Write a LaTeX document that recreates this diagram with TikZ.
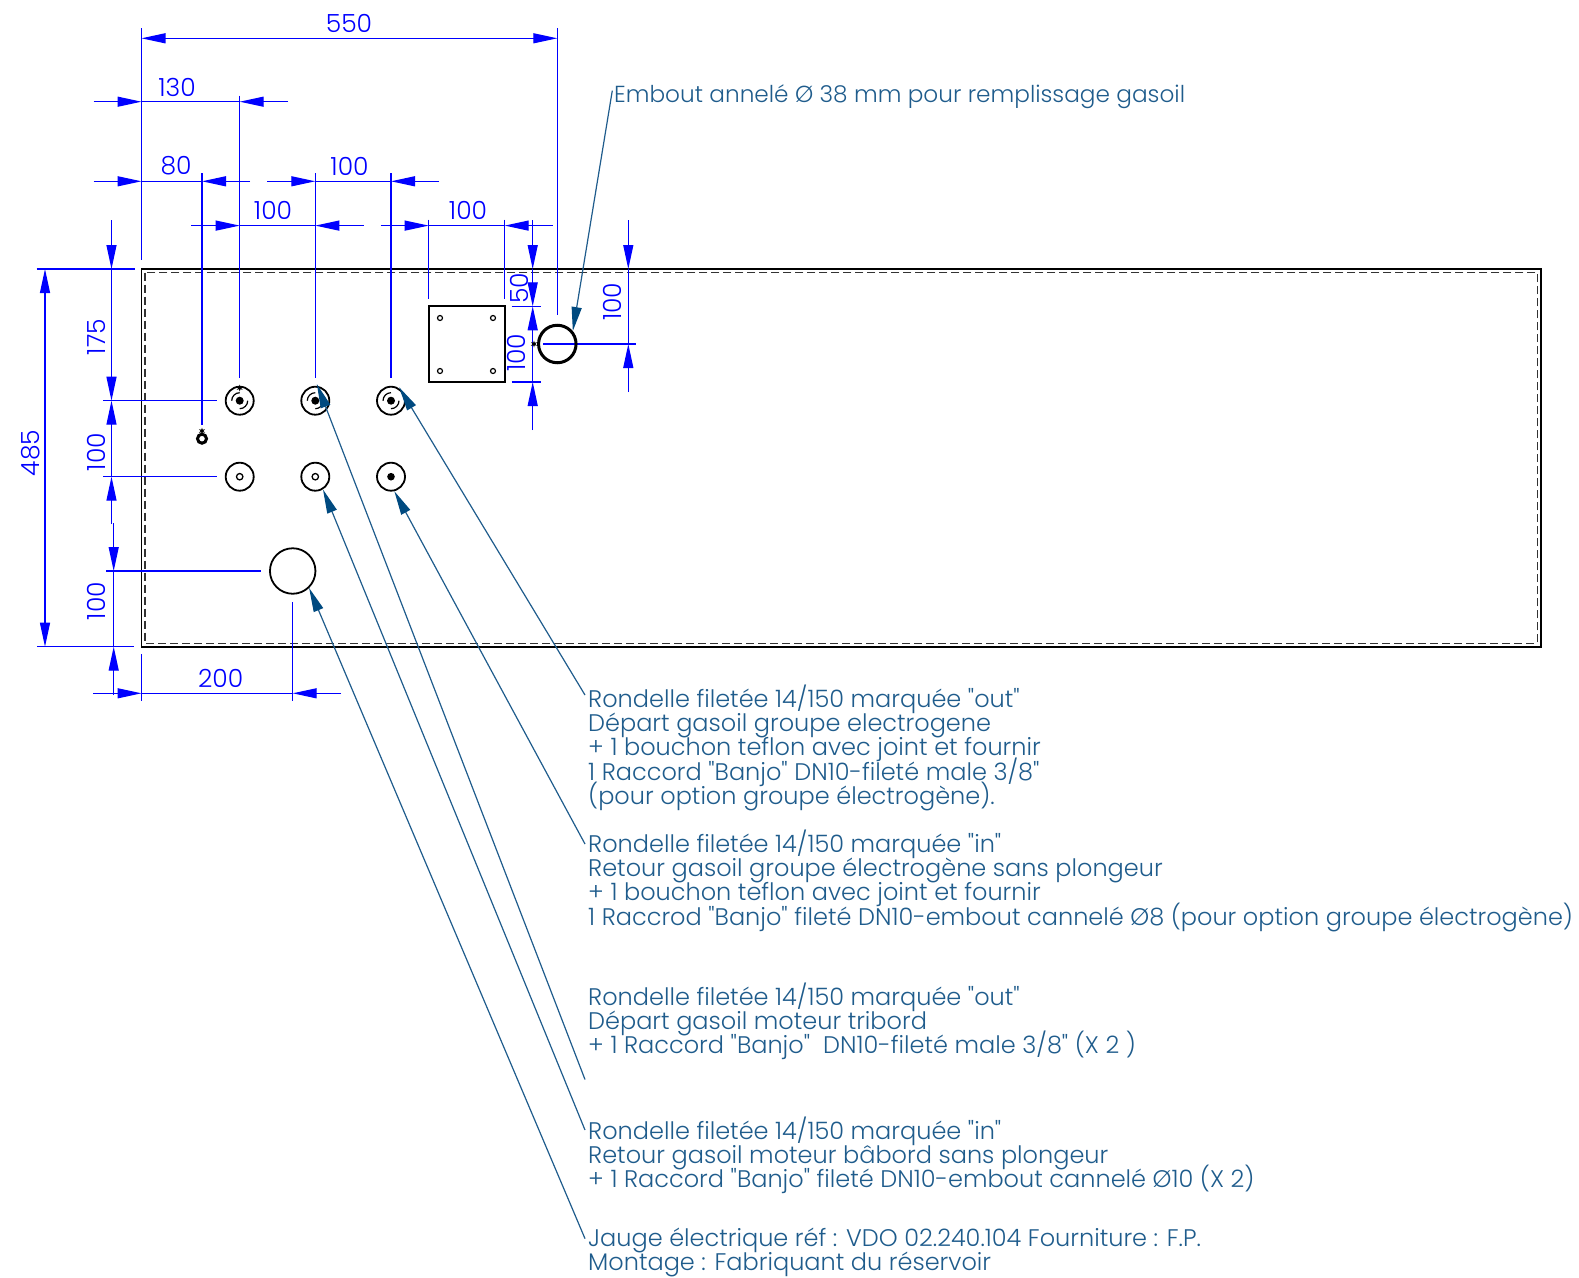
\documentclass[tikz,border=0pt]{standalone}
\usepackage{fontspec}
\setmainfont{Poppins Light}[Ligatures=TeXOff]
\usetikzlibrary{arrows.meta,shapes.geometric}
\definecolor{dimblue}{HTML}{0000FF}
\definecolor{leaderblue}{HTML}{1F5C8C}
\definecolor{tipblue}{HTML}{004A80}
\tikzset{dimtip/.tip={Triangle[length=24pt,width=10pt]},
  leadtip/.tip={Triangle[length=24pt,width=10pt,color=tipblue]}}
\normallineskiplimit=-30pt
\lineskiplimit=-30pt

\begin{document}
\begin{tikzpicture}[x=1pt, y=-1pt, line cap=butt]
\useasboundingbox (0,0) rectangle (1579,1277);

\tikzstyle{dimline}=[draw=dimblue, line width=1.2pt]
\tikzstyle{extline}=[draw=dimblue, line width=1.2pt]
\tikzstyle{dimtext}=[text=dimblue, inner sep=0pt, font=\fontsize{25}{25}\selectfont]
\tikzstyle{leader}=[draw=leaderblue, line width=1.2pt, -leadtip]
\tikzstyle{notetext}=[text=leaderblue, inner sep=0pt, anchor=north west, align=left, font=\fontsize{24}{24.1}\selectfont]
\tikzstyle{hole}=[circle, draw=black, fill=white, line width=1.8pt, minimum size=28pt, inner sep=0pt]
\tikzstyle{threads}=[path picture={
    \draw[black, line width=1.2pt] (path picture bounding box.center) ++(90:8pt) arc (90:180:8pt);
    \draw[black, line width=1.2pt] (path picture bounding box.center) ++(-90:8pt) arc (-90:0:8pt);
    \fill[black] (path picture bounding box.center) circle (4pt);}]
\tikzstyle{dotin}=[path picture={\fill[black] (path picture bounding box.center) circle (3.8pt);}]
\tikzstyle{ringin}=[path picture={\draw[black, line width=1.3pt] (path picture bounding box.center) circle (3.2pt);}]
\tikzstyle{boltmark}=[star, star points=6, star point ratio=2.5, fill=black, inner sep=0pt, minimum size=7pt]
\tikzstyle{screw}=[circle, draw=black, line width=1.2pt, minimum size=5pt, inner sep=0pt]

% tank
\draw[black, line width=1.8pt] (141.5,269) rectangle (1541,646.7);
\draw[black!80, line width=1.2pt, dash pattern=on 8pt off 4pt] (145,272.5) rectangle (1537.5,643.2);

% dimension text and extension lines
\draw[extline] (141.5,28) -- (141.5,260);
\draw[extline] (557.3,28) -- (557.3,315);
\draw[extline] (239.7,95.7) -- (239.7,377.6);
\draw[extline] (202,173) -- (202,425);
\draw[extline] (315.3,173) -- (315.3,377.6);
\draw[extline] (391,173) -- (391,377.6);
\draw[extline] (428.7,219.5) -- (428.7,299);
\draw[extline] (504.7,219.5) -- (504.7,299);
\draw[extline] (36.7,269) -- (134.7,269);
\draw[extline] (37.3,646.7) -- (134,646.7);
\draw[extline] (103.3,400.7) -- (217.3,400.7);
\draw[extline] (103.3,476.7) -- (217.3,476.7);
\draw[extline] (106,571) -- (261,571);
\draw[extline] (141.5,654) -- (141.5,700.7);
\draw[extline] (292.7,602.3) -- (292.7,700.7);
\draw[extline] (511.7,306.3) -- (541,306.3);
\draw[extline] (511.7,382) -- (541,382);
\draw[extline] (543,344) -- (636,344);

% horizontal dimensions
\draw[dimline, dimtip-dimtip] (141.5,38.3) -- (557.3,38.3);
\draw[dimline, -dimtip] (93.6,101.7) -- (141.5,101.7);
\draw[dimline] (141.5,101.7) -- (239.7,101.7);
\draw[dimline, -dimtip] (288,101.7) -- (239.7,101.7);
\draw[dimline, -dimtip] (93.6,181.3) -- (141.5,181.3);
\draw[dimline] (141.5,181.3) -- (202,181.3);
\draw[dimline, -dimtip] (250,181.3) -- (202,181.3);
\draw[dimline, -dimtip] (267,181.3) -- (315.3,181.3);
\draw[dimline] (315.3,181.3) -- (391,181.3);
\draw[dimline, -dimtip] (439,181.3) -- (391,181.3);
\draw[dimline, -dimtip] (191,225.6) -- (239.7,225.6);
\draw[dimline] (239.7,225.6) -- (315.3,225.6);
\draw[dimline, -dimtip] (363.5,225.6) -- (315.3,225.6);
\draw[dimline, -dimtip] (380.6,225.6) -- (428.7,225.6);
\draw[dimline] (428.7,225.6) -- (504.7,225.6);
\draw[dimline, -dimtip] (552.7,225.6) -- (504.7,225.6);
\draw[dimline, -dimtip] (93.3,693.3) -- (141.5,693.3);
\draw[dimline] (141.5,693.3) -- (292.7,693.3);
\draw[dimline, -dimtip] (341,693.3) -- (292.7,693.3);

% vertical dimensions
\draw[dimline, dimtip-dimtip] (45,269) -- (45,646.7);
\draw[dimline, -dimtip] (111.5,220) -- (111.5,269);
\draw[dimline, -dimtip] (111.5,269) -- (111.5,400.7);
\draw[dimline, -dimtip] (111.5,476.7) -- (111.5,400.7);
\draw[dimline, -dimtip] (111.5,524) -- (111.5,476.7);
\draw[dimline, -dimtip] (113.7,523) -- (113.7,571);
\draw[dimline] (113.7,571) -- (113.7,646.7);
\draw[dimline, -dimtip] (113.7,695) -- (113.7,646.7);
\draw[dimline, -dimtip] (532.7,220) -- (532.7,269);
\draw[dimline, -dimtip] (532.7,269) -- (532.7,306.3);
\draw[dimline, -dimtip] (532.7,382) -- (532.7,306.3);
\draw[dimline, -dimtip] (532.7,430) -- (532.7,382);
\draw[dimline, -dimtip] (628.3,220) -- (628.3,269);
\draw[dimline] (628.3,269) -- (628.3,344);
\draw[dimline, -dimtip] (628.3,392) -- (628.3,344);

\draw (349,23.5) node[dimtext] (dimAll) {550};
\draw (177,87.6) node[dimtext] (dimFirst) {130};
\draw (176,166) node[dimtext] (dimSmall) {80};
\draw (349.5,166) node[dimtext] (dimRowB) {100};
\draw (273,210.5) node[dimtext] (dimRowA) {100};
\draw (468,210.5) node[dimtext] (dimPlate) {100};
\draw (220.7,678.3) node[dimtext] (dimGauge) {200};
\draw (31,453) node[dimtext, rotate=90] (dimHeight) {485};
\draw (96.7,337) node[dimtext, rotate=90] (dimTop) {175};
\draw (96.7,452) node[dimtext, rotate=90] (dimRows) {100};
\draw (96.7,601) node[dimtext, rotate=90] (dimBottom) {100};
\draw (519,288.3) node[dimtext, rotate=90] (dimPlateTop) {50};
\draw (516.7,352.7) node[dimtext, rotate=90] (dimPlateSide) {100};
\draw (612.3,301.7) node[dimtext, rotate=90] (dimFill) {100};

% fittings
\draw (239.7,400.7) node[hole, threads] (outA) {};
\draw (315.3,400.7) node[hole, threads] (outB) {};
\draw (391,400.7) node[hole, threads] (outC) {};
\draw (239.7,476.7) node[hole, ringin] (inA) {};
\draw (315.3,476.7) node[hole, ringin] (inB) {};
\draw (391,476.7) node[hole, dotin] (inC) {};
\draw (292.7,571) node[circle, draw=black, line width=1.8pt, minimum size=45.5pt, inner sep=0pt] (gauge) {};
\draw (557.3,344) node[circle, draw=black, line width=3pt, minimum size=37.5pt, inner sep=0pt] (filler) {};
\draw (202,438.7) node[circle, draw=black, line width=3pt, minimum size=9pt, inner sep=0pt] (plug) {};
\draw (239.7,388) node[boltmark] (markA) {};
\draw (202,431) node[boltmark] (markB) {};
\draw (534,344) node[boltmark] (markC) {};

% plate
\draw (466.7,344.2) node[rectangle, draw=black, line width=1.8pt, minimum width=76pt, minimum height=75.7pt, inner sep=0pt] (plate) {};
\draw (440,318) node[screw] (screwA) {}
      (493,318) node[screw] (screwB) {}
      (440,371) node[screw] (screwC) {}
      (493,371) node[screw] (screwD) {};

% notes
\draw (614,84) node[notetext, font=\fontsize{23.2}{24.1}\selectfont] (noteFill) {Embout annelé Ø 38 mm pour remplissage gasoil};
\draw (588,685) node[notetext] (noteOutC) {Rondelle filetée 14/150 marquée "out"\\Départ gasoil groupe electrogene\\+ 1 bouchon teflon avec joint et fournir\\1 Raccord "Banjo" DN10-fileté male 3/8"\\(pour option groupe électrogène).};
\draw (588,830) node[notetext] (noteInC) {Rondelle filetée 14/150 marquée "in"\\Retour gasoil groupe électrogène sans plongeur\\+ 1 bouchon teflon avec joint et fournir\\1 Raccrod "Banjo" fileté DN10-embout cannelé Ø8 (pour option groupe électrogène)};
\draw (588,983) node[notetext] (noteOutB) {Rondelle filetée 14/150 marquée "out"\\Départ gasoil moteur tribord\\+ 1 Raccord "Banjo"\ \ DN10-fileté male 3/8" (X 2 )};
\draw (588,1117) node[notetext] (noteInB) {Rondelle filetée 14/150 marquée "in"\\Retour gasoil moteur bâbord sans plongeur\\+ 1 Raccord "Banjo" fileté DN10-embout cannelé Ø10 (X 2)};
\draw (588,1228) node[notetext] (noteGauge) {Jauge électrique réf : VDO 02.240.104 Fourniture : F.P.\\Montage : Fabriquant du réservoir};

% leaders
\coordinate (endFill) at (612.3,90.6);
\coordinate (endOutC) at (585,695);
\coordinate (endInC) at (585,844);
\coordinate (endOutB) at (585,1079.5);
\coordinate (endInB) at (585,1130);
\coordinate (endGauge) at (585,1238.6);
\draw[leader] (endFill) -- (filler.40);
\draw[leader, shorten >=-2pt] (endOutC) -- (outC.52);
\draw[leader] (endInC) -- (inC.-77);
\draw[leader, shorten >=-2pt] (endOutB) -- (outB.81);
\draw[leader] (endInB) -- (inB.-59);
\draw[leader] (endGauge) -- (gauge.-46);

\end{tikzpicture}
\end{document}
